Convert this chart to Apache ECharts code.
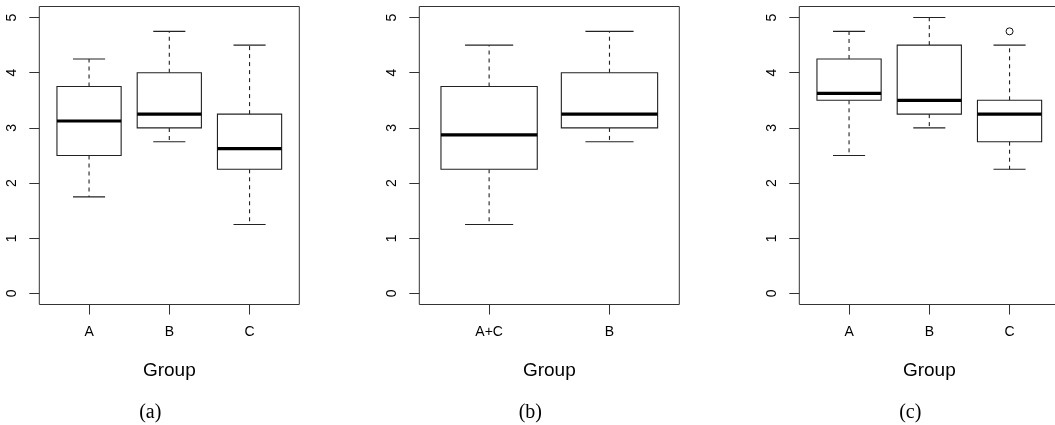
<!DOCTYPE html>
<html>
<head>
<meta charset="utf-8">
<script src="https://cdn.jsdelivr.net/npm/echarts@6/dist/echarts.min.js"></script>
<style>
html,body{margin:0;padding:0;background:#fff;}
#chart{width:1055px;height:425px;}
</style>
</head>
<body>
<div id="chart"></div>
<script>
// ---- data ----
const yTicks = [0, 1, 2, 3, 4, 5];

const catsA = ['A', 'B', 'C'];
const lowA  = [1.75, 2.75, 1.25];
const q1A   = [2.5, 3.0, 2.25];
const medA  = [3.125, 3.25, 2.625];
const q3A   = [3.75, 4.0, 3.25];
const highA = [4.25, 4.75, 4.5];

const catsB = ['A+C', 'B'];
const lowB  = [1.25, 2.75];
const q1B   = [2.25, 3.0];
const medB  = [2.875, 3.25];
const q3B   = [3.75, 4.0];
const highB = [4.5, 4.75];

const catsC = ['A', 'B', 'C'];
const lowC  = [2.5, 3.0, 2.25];
const q1C   = [3.5, 3.25, 2.75];
const medC  = [3.625, 3.5, 3.25];
const q3C   = [4.25, 4.5, 3.5];
const highC = [4.75, 5.0, 4.5];
const outlierCatC = [3];
const outlierValC = [4.75];

const captions = ['(a)', '(b)', '(c)'];
const xTitle = 'Group';

// ---- build ----
function boxData(cats, lo, q1, md, q3, hi) {
  return cats.map((c, i) => [i + 1, lo[i], q1[i], md[i], q3[i], hi[i]]);
}
const LINE = '#222';
function renderBox(params, api) {
  const x = api.value(0);
  const pLo = api.coord([x, api.value(1)]);
  const pQ1 = api.coord([x, api.value(2)]);
  const pMd = api.coord([x, api.value(3)]);
  const pQ3 = api.coord([x, api.value(4)]);
  const pHi = api.coord([x, api.value(5)]);
  const half = api.size([0.4, 0])[0];
  const st = half / 2;
  const cx = pLo[0];
  const thin = {stroke: LINE, lineWidth: 1.1};
  return {
    type: 'group',
    children: [
      {type: 'line', shape: {x1: cx, y1: pQ3[1], x2: cx, y2: pHi[1]}, style: Object.assign({lineDash: [4, 4]}, thin)},
      {type: 'line', shape: {x1: cx, y1: pQ1[1], x2: cx, y2: pLo[1]}, style: Object.assign({lineDash: [4, 4]}, thin)},
      {type: 'line', shape: {x1: cx - st, y1: pHi[1], x2: cx + st, y2: pHi[1]}, style: thin},
      {type: 'line', shape: {x1: cx - st, y1: pLo[1], x2: cx + st, y2: pLo[1]}, style: thin},
      {type: 'rect', shape: {x: cx - half, y: pQ3[1], width: 2 * half, height: pQ1[1] - pQ3[1]},
       style: {fill: '#fff', stroke: LINE, lineWidth: 1.1}},
      {type: 'line', shape: {x1: cx - half, y1: pMd[1], x2: cx + half, y2: pMd[1]},
       style: {stroke: '#000', lineWidth: 3.2}}
    ]
  };
}

const panels = [
  {cats: catsA, data: boxData(catsA, lowA, q1A, medA, q3A, highA), left: 39.3},
  {cats: catsB, data: boxData(catsB, lowB, q1B, medB, q3B, highB), left: 419.3},
  {cats: catsC, data: boxData(catsC, lowC, q1C, medC, q3C, highC), left: 799.3}
];

const grids = [], xAxes = [], yAxes = [], series = [], graphics = [];
panels.forEach((p, i) => {
  const n = p.cats.length;
  const ext = 0.04 * n;
  grids.push({left: p.left, top: 6.5, width: 260, height: 298, show: true,
    borderColor: '#333', borderWidth: 1, backgroundColor: 'transparent', outerBoundsMode: 'none', containLabel: false});
  const xVals = p.cats.map((c, k) => k + 1);
  xAxes.push({
    type: 'value', gridIndex: i, min: 0.5 - ext, max: n + 0.5 + ext,
    splitLine: {show: false},
    axisLine: {show: false, onZero: false},
    axisTick: {show: true, customValues: xVals, length: 10, lineStyle: {color: '#333', width: 1}},
    axisLabel: {show: true, customValues: xVals, margin: 21, fontSize: 14, color: '#000',
      fontFamily: 'Liberation Sans', formatter: v => p.cats[Math.round(v) - 1]},
    name: xTitle, nameLocation: 'middle', nameGap: 57,
    nameTextStyle: {fontSize: 19, color: '#000', fontFamily: 'Liberation Sans'}
  });
  yAxes.push({
    type: 'value', gridIndex: i, min: -0.2, max: 5.2,
    splitLine: {show: false},
    axisLine: {show: false, onZero: false},
    axisTick: {show: true, customValues: yTicks, length: 10, lineStyle: {color: '#333', width: 1}},
    axisLabel: {show: true, customValues: yTicks, rotate: 90, margin: 20, fontSize: 14, color: '#000',
      fontFamily: 'Liberation Sans'}
  });
  series.push({
    type: 'custom', xAxisIndex: i, yAxisIndex: i, data: p.data,
    encode: {x: 0, y: [1, 2, 3, 4, 5]}, renderItem: renderBox, clip: false, silent: true
  });
  graphics.push({
    type: 'text', x: p.left + 130 - 19, y: 412.5,
    style: {text: captions[i], font: '20px "Liberation Serif"', fill: '#000', textAlign: 'center', textVerticalAlign: 'middle'}
  });
});
series.push({
  type: 'scatter', xAxisIndex: 2, yAxisIndex: 2,
  data: outlierCatC.map((c, k) => [c, outlierValC[k]]),
  symbol: 'circle', symbolSize: 7, z: 5,
  itemStyle: {color: '#fff', borderColor: '#111', borderWidth: 1, opacity: 1}, silent: true
});

const chart = echarts.init(document.getElementById('chart'), null, {renderer: 'canvas'});
chart.setOption({
  backgroundColor: '#fff',
  animation: false,
  grid: grids, xAxis: xAxes, yAxis: yAxes, series: series,
  graphic: graphics
});
</script>
</body>
</html>
